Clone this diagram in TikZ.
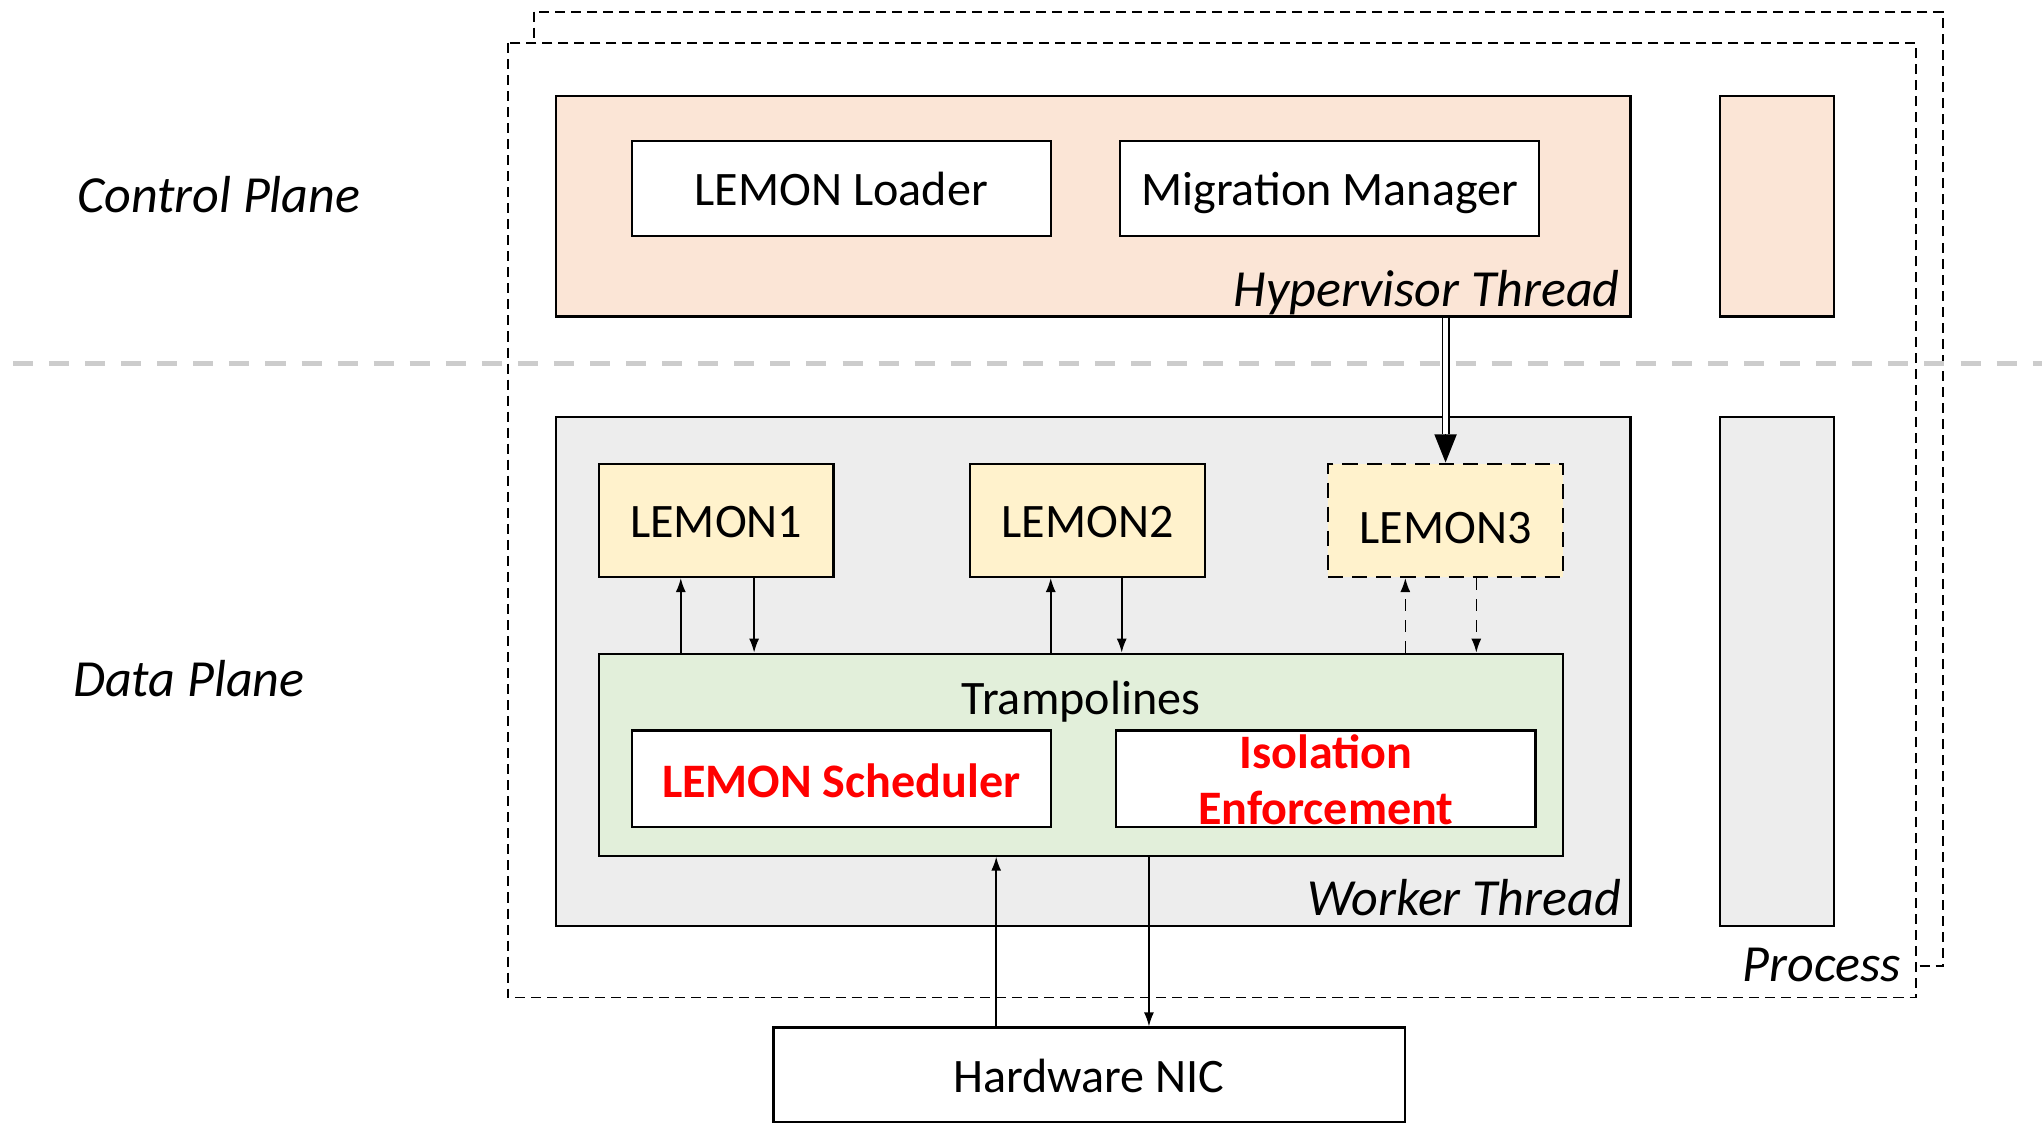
\documentclass[tikz,border=0pt]{standalone}
\usepackage{fontspec}
\setmainfont{Carlito}
\usetikzlibrary{arrows.meta,fit,calc}
\definecolor{peach}{HTML}{FBE5D6}
\definecolor{lemonfill}{HTML}{FFF2CC}
\definecolor{trampfill}{HTML}{E2EFDA}
\definecolor{workerfill}{HTML}{EDEDED}
\definecolor{planeline}{HTML}{CCCCCC}
\definecolor{hotred}{HTML}{FF0000}
\begin{document}
\begin{tikzpicture}[x=0.65pt,y=-0.65pt,
  box/.style={draw, line width=1.1pt, inner sep=0pt},
  txt/.style={inner sep=0pt, anchor=base, font=\fontsize{24}{28}\selectfont},
  redtext/.style={txt, text=hotred, font=\fontsize{24}{28}\selectfont\bfseries},
  lbl/.style={inner sep=0pt, font=\fontsize{26}{30}\selectfont\itshape},
  procline/.style={line width=0.9pt, dash pattern=on 5pt off 3pt},
  tip/.style={-{Latex[length=7pt,width=5pt]}, line width=0.8pt},
  dtip/.style={tip, dash pattern=on 6pt off 4.5pt}]
\useasboundingbox (0,0) rectangle (1568,862);

% process outlines (back one partly hidden by the front one)
\draw[procline] (410,9) rectangle (1492,742);
\draw[procline, fill=white] (390,33) rectangle (1471,766);

% separator between control and data plane
\draw[planeline, line width=2.2pt, dash pattern=on 10pt off 8pt] (10,279) -- (1568,279);

% plane labels
\node[lbl, anchor=base] (cplane) at (168,163) {Control Plane};
\node[lbl, anchor=base] (dplane) at (145,535) {Data Plane};

% hypervisor thread
\node[box, fill=peach, fit={(427,74) (1252,243)}] (hyp) {};
\node[box, fill=peach, fit={(1321,74) (1408,243)}] (hypside) {};
\node[box, fill=white, fit={(485,108) (807,181)}] (loader) {};
\node[txt] (loadertxt) at (646,158) {LEMON Loader};
\node[box, fill=white, fit={(860,108) (1182,181)}] (migr) {};
\node[txt] (migrtxt) at (1021,158) {Migration Manager};
\node[lbl, anchor=base east] (hyplbl) at (1244,235) {Hypervisor Thread};

% worker thread
\node[box, fill=workerfill, fit={(427,320) (1252,711)}] (worker) {};
\node[box, fill=workerfill, fit={(1321,320) (1408,711)}] (workside) {};
\node[lbl, anchor=base east] (worklbl) at (1245,703) {Worker Thread};
\node[lbl, anchor=base east] (proclbl) at (1460,754) {Process};

\node[box, fill=lemonfill, fit={(460,356) (640,443)}] (l1) {};
\node[txt] (l1txt) at (550,413) {LEMON1};
\node[box, fill=lemonfill, fit={(745,356) (925,443)}] (l2) {};
\node[txt] (l2txt) at (835,413) {LEMON2};
\node[box, fill=lemonfill, dash pattern=on 7.5pt off 4.5pt, fit={(1020,356) (1200,443)}] (l3) {};
\node[txt] (l3txt) at (1110,417) {LEMON3};

\node[box, fill=trampfill, fit={(460,502) (1200,657)}] (tramp) {};
\node[txt] (tramptxt) at (830,549) {Trampolines};
\node[box, fill=white, fit={(485,561) (807,635)}] (sched) {};
\node[redtext] (schedtxt) at (646,612) {LEMON Scheduler};
\node[box, fill=white, fit={(857,561) (1179,635)}] (iso) {};
\node[redtext] (isotxt1) at (1018,590) {Isolation};
\node[redtext] (isotxt2) at (1018,633) {Enforcement};

% hardware
\node[box, fill=white, fit={(594,789) (1079,862)}] (nic) {};
\node[txt] (nictxt) at (836,839) {Hardware NIC};

% LEMON <-> trampolines
\coordinate (l1u) at ($(l1.south west)!0.35!(l1.south east)$);
\coordinate (l1d) at ($(l1.south west)!0.66!(l1.south east)$);
\coordinate (l2u) at ($(l2.south west)!0.345!(l2.south east)$);
\coordinate (l2d) at ($(l2.south west)!0.645!(l2.south east)$);
\coordinate (l3u) at ($(l3.south west)!0.33!(l3.south east)$);
\coordinate (l3d) at ($(l3.south west)!0.63!(l3.south east)$);
\draw[tip] (l1u |- tramp.north) -- (l1u);
\draw[tip] (l1d) -- (l1d |- tramp.north);
\draw[tip] (l2u |- tramp.north) -- (l2u);
\draw[tip] (l2d) -- (l2d |- tramp.north);
\draw[dtip] (l3u |- tramp.north) -- (l3u);
\draw[dtip] (l3d) -- (l3d |- tramp.north);

% hypervisor loads LEMON3
\coordinate (hypout) at (l3.north |- hyp.south);
\coordinate (l3in) at ($(l3.north)+(0,-22)$);
\draw[double, double distance=2.4pt, line width=0.8pt] (hypout) -- (l3in);
\draw[-{Triangle[length=14pt,width=11pt]}, line width=0.8pt] (l3in) -- (l3.north);

% NIC <-> trampolines
\coordinate (nicu) at ($(nic.north west)!0.353!(nic.north east)$);
\coordinate (nicd) at ($(nic.north west)!0.594!(nic.north east)$);
\draw[tip] (nicu) -- (nicu |- tramp.south);
\draw[tip] (nicd |- tramp.south) -- (nicd);
\end{tikzpicture}
\end{document}
